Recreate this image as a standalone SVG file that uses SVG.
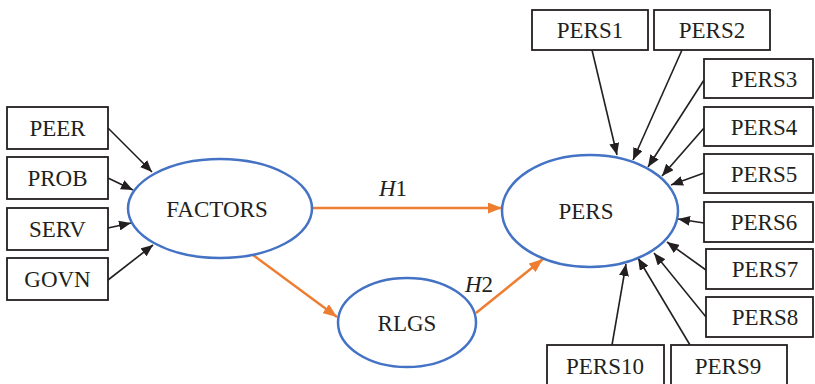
<svg xmlns="http://www.w3.org/2000/svg" width="815" height="384" viewBox="0 0 815 384">
<style>
.box{fill:#fff;stroke:#231f20;stroke-width:1.8}
.ell{fill:#fff;stroke:#4472c4;stroke-width:2.5}
.t{font-family:"Liberation Serif","Times New Roman",serif;font-size:23px;fill:#231f20;text-anchor:middle}
.blk{stroke:#231f20;stroke-width:1.6;fill:none;marker-end:url(#ab)}
.org{stroke:#ed7d31;stroke-width:2.5;fill:none;marker-end:url(#ao)}
</style>
<defs>
<marker id="ab" markerUnits="userSpaceOnUse" markerWidth="12" markerHeight="10" refX="12" refY="5" orient="auto"><path d="M0,0 L12,5 L0,10 z" fill="#231f20"/></marker>
<marker id="ao" markerUnits="userSpaceOnUse" markerWidth="14" markerHeight="11" refX="14" refY="5.5" orient="auto"><path d="M0,0 L14,5.5 L0,11 z" fill="#ed7d31"/></marker>
</defs>
<rect width="815" height="384" fill="#fff"/>
<g id="connectors">
<line class="blk" x1="108" y1="128" x2="152" y2="172"/>
<line class="blk" x1="108" y1="178" x2="133" y2="190"/>
<line class="blk" x1="108" y1="228" x2="131" y2="223"/>
<line class="blk" x1="108" y1="280" x2="153" y2="245"/>
<line class="blk" x1="592" y1="50" x2="617" y2="155"/>
<line class="blk" x1="682" y1="50" x2="633" y2="160"/>
<line class="blk" x1="704" y1="80" x2="648" y2="167"/>
<line class="blk" x1="704" y1="128" x2="662" y2="176"/>
<line class="blk" x1="704" y1="173" x2="671" y2="185"/>
<line class="blk" x1="704" y1="223" x2="678" y2="219"/>
<line class="blk" x1="706" y1="270" x2="667" y2="242"/>
<line class="blk" x1="706" y1="317" x2="654" y2="253"/>
<line class="blk" x1="690" y1="345" x2="638" y2="258"/>
<line class="blk" x1="612" y1="345" x2="626" y2="264"/>
<line class="org" x1="313" y1="208" x2="502" y2="208"/>
<line class="org" x1="253" y1="255" x2="337" y2="317"/>
<line class="org" x1="476" y1="313" x2="543" y2="259"/>
<text class="t" x="393" y="196"><tspan font-style="italic">H</tspan>1</text>
<text class="t" x="479" y="292"><tspan font-style="italic">H</tspan>2</text>
</g>
<g id="PEER"><rect class="box" x="7" y="107" width="101" height="42"/><text class="t" x="57.5" y="136">PEER</text></g>
<g id="PROB"><rect class="box" x="7" y="157" width="101" height="42"/><text class="t" x="57.5" y="186">PROB</text></g>
<g id="SERV"><rect class="box" x="7" y="208" width="101" height="42"/><text class="t" x="57.5" y="237">SERV</text></g>
<g id="GOVN"><rect class="box" x="7" y="258" width="101" height="42"/><text class="t" x="57.5" y="287">GOVN</text></g>
<g id="FACTORS"><ellipse class="ell" cx="220" cy="208.5" rx="92" ry="49.5"/><text class="t" x="217" y="216.5">FACTORS</text></g>
<g id="RLGS"><ellipse class="ell" cx="407" cy="322.5" rx="69" ry="44.5"/><text class="t" x="407" y="331">RLGS</text></g>
<g id="PERS"><ellipse class="ell" cx="590" cy="211" rx="88" ry="56"/><text class="t" x="586" y="219">PERS</text></g>
<g id="PERS1"><rect class="box" x="532" y="10" width="116" height="40"/><text class="t" x="590" y="38">PERS1</text></g>
<g id="PERS2"><rect class="box" x="654" y="10" width="116" height="40"/><text class="t" x="712" y="38">PERS2</text></g>
<g id="PERS3"><rect class="box" x="704" y="59" width="109" height="39"/><text class="t" x="764" y="86.5">PERS3</text></g>
<g id="PERS4"><rect class="box" x="704" y="107" width="109" height="39"/><text class="t" x="764" y="134.5">PERS4</text></g>
<g id="PERS5"><rect class="box" x="704" y="154" width="109" height="39"/><text class="t" x="764" y="181.5">PERS5</text></g>
<g id="PERS6"><rect class="box" x="704" y="202" width="109" height="40"/><text class="t" x="764" y="230">PERS6</text></g>
<g id="PERS7"><rect class="box" x="706" y="249" width="107" height="40"/><text class="t" x="765" y="277">PERS7</text></g>
<g id="PERS8"><rect class="box" x="706" y="297" width="107" height="40"/><text class="t" x="765" y="325">PERS8</text></g>
<g id="PERS10"><rect class="box" x="547" y="345" width="117" height="45"/><text class="t" x="605" y="373.5">PERS10</text></g>
<g id="PERS9"><rect class="box" x="671" y="345" width="116" height="45"/><text class="t" x="728" y="373.5">PERS9</text></g>
</svg>
